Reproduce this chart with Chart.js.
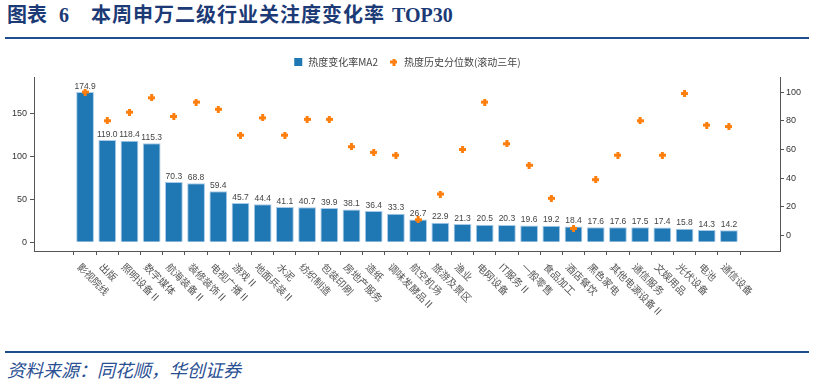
<!DOCTYPE html>
<html>
<head>
<meta charset="utf-8">
<script src="https://cdn.jsdelivr.net/npm/chart.js@4.4.1/dist/chart.umd.min.js"></script>
<style>
body { margin:0; width:814px; height:383px; background:#fff; position:relative; overflow:hidden; }
.t { position:absolute; top:4px; line-height:22px; font-size:20px; font-weight:bold; color:#1b3a76; font-family:"Liberation Serif","Noto Sans CJK SC",serif; white-space:pre; }
.rule { position:absolute; left:5px; width:804px; height:2px; background:#1f4e8f; }
#wrap { position:absolute; left:0; top:45px; width:814px; height:300px; }
.src { position:absolute; left:7px; top:357px; line-height:24px; font-size:18px; font-style:italic; color:#2a4f92; font-family:"Noto Sans CJK SC",sans-serif; white-space:pre; }
</style>
</head>
<body>
<div class="t" style="left:7px">图表</div>
<div class="t" style="left:59px">6</div>
<div class="t" style="left:91px;letter-spacing:1px">本周申万二级行业关注度变化率</div>
<div class="t" style="left:392px">TOP30</div>
<div class="rule" style="top:37px"></div>
<div id="wrap"><canvas id="chart1"></canvas></div>
<div class="rule" style="top:351px"></div>
<div class="src">资料来源：同花顺，华创证券</div>
<script>
let categories = ['影视院线','出版','照明设备Ⅱ','数字媒体','航海装备Ⅱ','装修装饰Ⅱ','电视广播Ⅱ','游戏Ⅱ','地面兵装Ⅱ','水泥',
    '纺织制造','包装印刷','房地产服务','造纸','调味发酵品Ⅱ','航空机场','旅游及景区','渔业','电网设备','IT服务Ⅱ',
    '一般零售','食品加工','酒店餐饮','黑色家电','其他电源设备Ⅱ','通信服务','文娱用品','光伏设备','电池','通信设备'];
let heatChange = [174.9,119.0,118.4,115.3,70.3,68.8,59.4,45.7,44.4,41.1,
    40.7,39.9,38.1,36.4,33.3,26.7,22.9,21.3,20.5,20.3,
    19.6,19.2,18.4,17.6,17.6,17.5,17.4,15.8,14.3,14.2];
let heatPercentile = [100,80,86,96,83,93,88,70,82,70,
    81,81,62,58,56,11,29,60,93,64,
    49,26,5,39,56,80,56,99,77,76];
let leftTicks = [0,50,100,150];
let rightTicks = [0,20,40,60,80,100];

let blue = '#1f77b4';
let orange = '#ff7f0e';
let axisColor = '#555';

// filled plus marker
let plus = document.createElement('canvas');
plus.width = 7; plus.height = 7;
let pctx = plus.getContext('2d');
pctx.fillStyle = orange;
pctx.fillRect(2, 0, 3, 7);
pctx.fillRect(0, 2, 7, 3);

let barLabels = {
    id: 'barLabels',
    afterDatasetsDraw(chart) {
        let ctx = chart.ctx;
        let meta = chart.getDatasetMeta(0);
        ctx.save();
        ctx.font = '8.5px "Liberation Sans"';
        ctx.fillStyle = '#444';
        ctx.textAlign = 'center';
        ctx.textBaseline = 'bottom';
        meta.data.forEach((bar, i) => {
            ctx.fillText(heatChange[i].toFixed(1), bar.x, bar.y - 1.5);
        });
        ctx.restore();
    }
};

let catLabels = {
    id: 'catLabels',
    afterDraw(chart) {
        let ctx = chart.ctx;
        let xs = chart.scales.x;
        let y0 = chart.chartArea.bottom + 14;
        ctx.save();
        ctx.font = '10px "Noto Sans CJK SC"';
        ctx.fillStyle = '#555';
        ctx.textAlign = 'left';
        ctx.textBaseline = 'middle';
        categories.forEach((c, i) => {
            ctx.save();
            ctx.translate(xs.getPixelForValue(i) - 6, y0);
            ctx.rotate(Math.PI / 4);
            ctx.fillText(c, 0, 0);
            ctx.restore();
        });
        ctx.restore();
    }
};

let ctx1 = document.getElementById('chart1').getContext('2d');
let chart = new Chart(ctx1, {
    data: {
        datasets: [{
            type: 'bar',
            label: '热度变化率MA2',
            data: heatChange.map((v, i) => ({x: i, y: v})),
            backgroundColor: blue,
            borderColor: '#a8cbe9',
            borderWidth: 1,
            barPercentage: 0.8,
            categoryPercentage: 1,
            yAxisID: 'y',
            order: 2
        }, {
            type: 'scatter',
            label: '热度历史分位数(滚动三年)',
            data: heatPercentile.map((v, i) => ({x: i, y: v})),
            pointStyle: plus,
            backgroundColor: orange,
            borderColor: orange,
            yAxisID: 'y1',
            order: 1
        }]
    },
    options: {
        responsive: true,
        maintainAspectRatio: false,
        animation: false,
        layout: {padding: {top: 1, left: 0, right: 0, bottom: 0}},
        plugins: {
            tooltip: {enabled: false},
            legend: {
                position: 'top',
                labels: {
                    usePointStyle: true,
                    boxHeight: 8,
                    padding: 11,
                    color: '#444',
                    font: {family: '"Noto Sans CJK SC"', size: 10},
                    generateLabels(chart) {
                        let items = Chart.defaults.plugins.legend.labels.generateLabels(chart);
                        items.sort((a, b) => a.datasetIndex - b.datasetIndex);
                        items.forEach(it => {
                            if (it.datasetIndex === 0) {
                                it.pointStyle = 'rect';
                                it.fillStyle = blue;
                                it.strokeStyle = blue;
                                it.lineWidth = 0;
                            } else {
                                it.pointStyle = plus;
                            }
                        });
                        return items;
                    }
                }
            }
        },
        scales: {
            x: {
                type: 'linear',
                min: -1.74,
                max: 30.74,
                afterBuildTicks: s => { s.ticks = categories.map((c, i) => ({value: i})); },
                afterFit: s => { s.height = 94; },
                ticks: {display: false},
                grid: {drawOnChartArea: false, tickLength: 4, color: axisColor},
                border: {color: axisColor}
            },
            y: {
                position: 'left',
                min: -10.1,
                max: 192.5,
                afterBuildTicks: s => { s.ticks = leftTicks.map(v => ({value: v})); },
                afterFit: s => { s.width = 34; },
                ticks: {color: '#333', padding: 3, font: {family: '"Liberation Sans"', size: 9}},
                grid: {drawOnChartArea: false, tickLength: 4, color: axisColor},
                border: {color: axisColor}
            },
            y1: {
                position: 'right',
                min: -10.7,
                max: 110.5,
                afterBuildTicks: s => { s.ticks = rightTicks.map(v => ({value: v})); },
                afterFit: s => { s.width = 34; },
                ticks: {color: '#333', padding: 2, font: {family: '"Liberation Sans"', size: 9}},
                grid: {drawOnChartArea: false, tickLength: 4, color: axisColor},
                border: {color: axisColor}
            }
        }
    },
    plugins: [barLabels, catLabels]
});
</script>
</body>
</html>
